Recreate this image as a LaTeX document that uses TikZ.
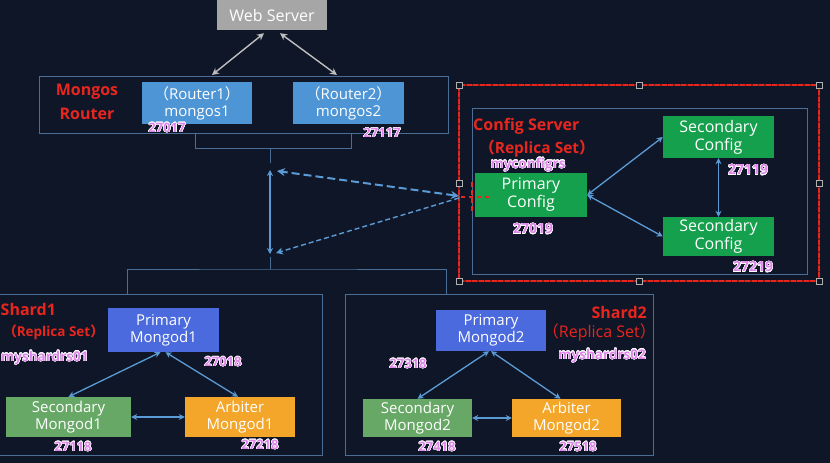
\documentclass[tikz,border=0pt]{standalone}
\usepackage{fontspec}
\setmainfont{Open Sans}
\newfontfamily\cjk{Noto Sans CJK SC}
\usepackage{contour}
\contourlength{0.45pt}
\contournumber{20}
\usetikzlibrary{arrows.meta}
\definecolor{bg}{HTML}{0F1628}
\definecolor{framec}{HTML}{4A6E96}
\definecolor{arrowc}{HTML}{5B9BD5}
\definecolor{grayarr}{HTML}{BFBFBF}
\definecolor{webc}{HTML}{A6A6A6}
\definecolor{routerc}{HTML}{4E95D6}
\definecolor{cfgc}{HTML}{14A04C}
\definecolor{primc}{HTML}{4A6ADE}
\definecolor{secc}{HTML}{67A866}
\definecolor{arbc}{HTML}{F4A62A}
\definecolor{redc}{HTML}{E8261E}
\definecolor{darkred}{HTML}{8E1A18}
\definecolor{pinkc}{HTML}{DE86EA}
\definecolor{handlec}{HTML}{B0B0B0}
\newcommand{\portlbl}[1]{\contour{white}{\textcolor{pinkc}{#1}}}
\newcommand{\fw}[1]{{\cjk #1}}
\tikzset{
  box/.style={rectangle, inner sep=0pt, align=center, text=white,
    font=\fontsize{15}{17}\selectfont},
  frame/.style={draw=framec, line width=0.9pt},
  biarrow/.style={draw=arrowc, line width=1.3pt,
    {Stealth[length=6pt,width=6pt]}-{Stealth[length=6pt,width=6pt]}},
  grayarrow/.style={draw=grayarr, line width=1.4pt,
    {Stealth[length=7pt,width=7pt]}-{Stealth[length=7pt,width=7pt]}},
  port/.style={inner sep=0pt, font=\bfseries\fontsize{13}{13}\selectfont},
  rtitle/.style={inner sep=0pt, text=redc, align=center,
    font=\bfseries\fontsize{16}{24}\selectfont},
  handle/.style={draw=handlec, fill=bg, minimum size=6pt, inner sep=0pt, line width=0.6pt},
}
\begin{document}
\begin{tikzpicture}[x=1pt,y=-1pt]
\fill[bg] (0,0) rectangle (830,463);
\useasboundingbox (0,0) rectangle (830,463);

% ---------------- Web server and mongos routers
\node[box, fill=webc, minimum width=110pt, minimum height=30pt,
  font=\fontsize{16}{18}\selectfont] (web) at (272,15) {Web Server};
\node[frame, rectangle, minimum width=409pt, minimum height=57pt, inner sep=0pt] (mbox) at (243.5,104.5) {};
\node[box, fill=routerc, minimum width=110pt, minimum height=42pt] (r1) at (197,103)
  {\fw{（}Router1\fw{）}\\mongos1};
\node[box, fill=routerc, minimum width=111pt, minimum height=42pt] (r2) at (348.5,103)
  {\fw{（}Router2\fw{）}\\mongos2};
\node[rtitle] (mtitle) at (87,102) {Mongos\\Router};
\node[port] (p27017) at (167,128) {\portlbl{27017}};
\node[port] (p27117) at (382,133) {\portlbl{27117}};

\coordinate (w1) at (212,75);
\coordinate (w2) at (337,75);
\draw[grayarrow] ([xshift=-8pt,yshift=-3pt]web.south) -- (w1);
\draw[grayarrow] ([xshift=8pt,yshift=-3pt]web.south) -- (w2);

% bracket under routers
\coordinate (bl) at (195,133);
\coordinate (br) at (351,133);
\coordinate (bm) at (270,148);
\draw[frame] (bl) -- (195,148) -- (351,148) -- (br);
\coordinate (v1) at (270,163);
\coordinate (va) at (270,170);
\coordinate (vb) at (270,254);
\coordinate (v2) at (270,257);
\coordinate (sb) at (270,269);
\draw[frame] (bm) -- (v1);
\draw[biarrow] (va) -- (vb);
\draw[frame] (v2) -- (sb);

% ---------------- Config server
\node[draw=darkred, line width=2.8pt, rectangle,
  minimum width=360pt, minimum height=196pt, inner sep=0pt] (selbase) at (639,183) {};
\node[draw=redc, line width=2.8pt, dash pattern=on 5pt off 1.5pt, rectangle,
  minimum width=360pt, minimum height=196pt, inner sep=0pt] (sel) at (639,183) {};
\node[frame, rectangle, minimum width=335pt, minimum height=166pt, inner sep=0pt] (cbox) at (639.5,191) {};
\foreach \n/\p in {h1/{(459,85)}, h2/{(639,85)}, h3/{(819,85)}, h4/{(459,183)},
                   h5/{(819,183)}, h6/{(459,281)}, h7/{(639,281)}, h8/{(819,281)}}
  \node[handle] (\n) at \p {};

\node[rtitle, anchor=west] (ctitle) at (473,126) {Config Server};
\node[rtitle, font=\bfseries\fontsize{15.5}{24}\selectfont] (crs) at (537,149) {\fw{（}Replica Set\fw{）}};
\node[port, font=\bfseries\fontsize{13.5}{13.5}\selectfont] (cname) at (528,165) {\portlbl{myconfigrs}};

\node[box, fill=cfgc, minimum width=112pt, minimum height=44pt,
  font=\fontsize{16}{18}\selectfont] (pc) at (531,195) {Primary\\Config};
\node[box, fill=cfgc, minimum width=111pt, minimum height=42pt,
  font=\fontsize{16}{18}\selectfont] (sc1) at (718.5,137) {Secondary\\Config};
\node[box, fill=cfgc, minimum width=111pt, minimum height=39pt,
  font=\fontsize{16}{18}\selectfont] (sc2) at (718.5,236.5) {Secondary\\Config};
\node[port, font=\bfseries\fontsize{14}{14}\selectfont] (p27019) at (533,229) {\portlbl{27019}};
\node[port, font=\bfseries\fontsize{14}{14}\selectfont] (p27119) at (748,170) {\portlbl{27119}};
\node[port, font=\bfseries\fontsize{14}{14}\selectfont] (p27219) at (753,267) {\portlbl{27219}};

\draw[biarrow] (pc.east) -- (sc1.west);
\draw[biarrow] (pc.east) -- (sc2.west);
\draw[biarrow] (sc1.south) -- (sc2.north);

% selection marks at the connector end
\draw[redc, line width=1.6pt, dash pattern=on 5pt off 3pt] (472,182) -- (472,214);
\draw[redc, line width=1.6pt, dash pattern=on 4pt off 4pt] (461,197) -- (490,197);

% dashed connectors between config and routers
\coordinate (cp1) at (459,196);
\coordinate (cp2) at (459,198);
\coordinate (da) at (277,171);
\coordinate (db) at (276,253);
\draw[draw=arrowc, line width=2pt, dash pattern=on 8pt off 4pt,
  {Stealth[length=8pt,width=8pt]}-{Stealth[length=8pt,width=8pt]}] (cp1) -- (da);
\draw[draw=arrowc, line width=1.4pt, dash pattern=on 5pt off 3pt,
  -{Stealth[length=7pt,width=7pt]}] (cp2) -- (db);

% ---------------- Shards bracket
\coordinate (s1t) at (127,294);
\coordinate (s2t) at (446,294);
\draw[frame] (s1t) -- (127,269) -- (sb) -- (446,269) -- (s2t);

% ---------------- Shard1
\node[frame, rectangle, minimum width=330pt, minimum height=161pt, inner sep=0pt] (s1box) at (157,374.5) {};
\node[rtitle, anchor=west] (s1title) at (0.5,309) {Shard1};
\node[rtitle, anchor=east, font=\bfseries\fontsize{13.5}{20}\selectfont] (s1rs) at (104,332) {\fw{（}Replica Set\fw{）}};
\node[port, anchor=west, font=\bfseries\fontsize{13.5}{13.5}\selectfont] (s1name) at (1,358) {\portlbl{myshardrs01}};

\node[box, fill=primc, minimum width=111pt, minimum height=44pt] (pm1) at (163.5,330) {Primary\\Mongod1};
\node[box, fill=secc, minimum width=125pt, minimum height=40pt] (sm1) at (68.5,417) {Secondary\\Mongod1};
\node[box, fill=arbc, minimum width=110pt, minimum height=40pt] (am1) at (240,417) {Arbiter\\Mongod1};
\node[port] (p27018) at (223,362) {\portlbl{27018}};
\node[port] (p27118) at (73,447) {\portlbl{27118}};
\node[port] (p27218) at (260,445) {\portlbl{27218}};

\draw[biarrow] ([xshift=-3pt]pm1.south) -- (sm1.north);
\draw[biarrow] ([xshift=2pt]pm1.south) -- ([xshift=-2pt]am1.north);
\draw[biarrow] (sm1.east) -- (am1.west);

% ---------------- Shard2
\node[frame, rectangle, minimum width=308pt, minimum height=161pt, inner sep=0pt] (s2box) at (499,374.5) {};
\node[rtitle, anchor=east] (s2title) at (647,312) {Shard2};
\node[rtitle, anchor=east, font=\fontsize{16}{24}\selectfont] (s2rs) at (656,333) {\fw{（}Replica Set\fw{）}};
\node[port, anchor=east, font=\bfseries\fontsize{13.5}{13.5}\selectfont] (s2name) at (646,356) {\portlbl{myshardrs02}};

\node[box, fill=primc, minimum width=110pt, minimum height=41pt] (pm2) at (491,330.5) {Primary\\Mongod2};
\node[box, fill=secc, minimum width=109pt, minimum height=38pt] (sm2) at (417.5,418) {Secondary\\Mongod2};
\node[box, fill=arbc, minimum width=109pt, minimum height=38pt] (am2) at (566.5,418) {Arbiter\\Mongod2};
\node[port] (p27318) at (408,364) {\portlbl{27318}};
\node[port] (p27418) at (437,447) {\portlbl{27418}};
\node[port] (p27518) at (578,447) {\portlbl{27518}};

\draw[biarrow] ([xshift=-2pt]pm2.south) -- (sm2.north);
\draw[biarrow] (pm2.south) -- ([xshift=-6pt]am2.north);
\draw[biarrow] (sm2.east) -- (am2.west);
\end{tikzpicture}
\end{document}
